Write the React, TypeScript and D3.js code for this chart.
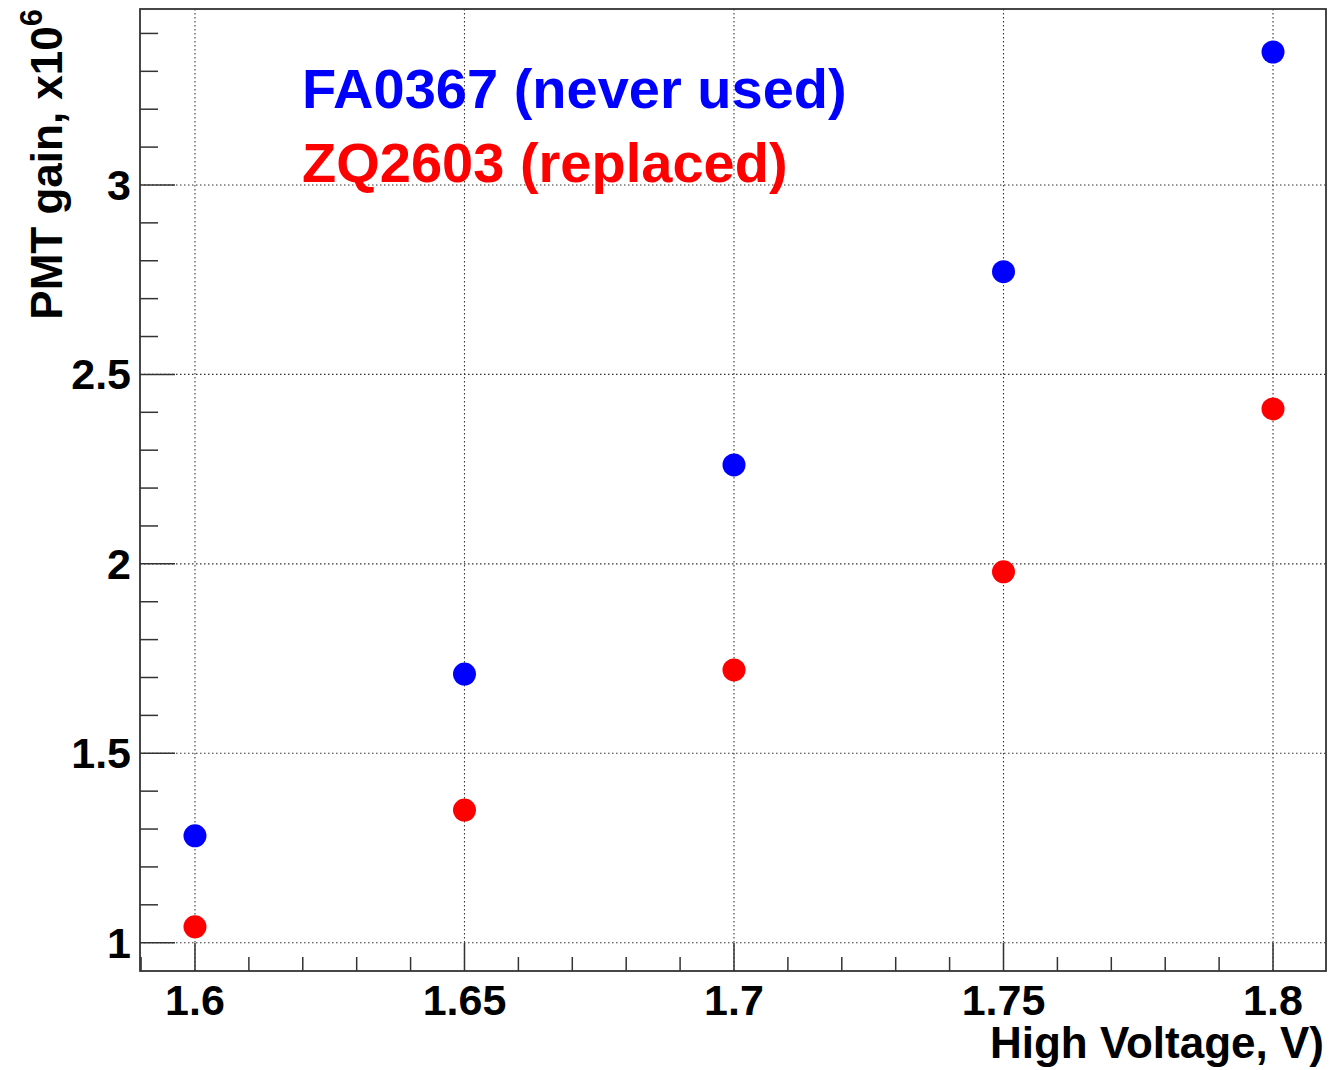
import React, { useEffect } from "react";
import * as d3 from "d3";

// High voltage settings (kV-scale values as labelled on the axis)
const voltages = [1.6, 1.65, 1.7, 1.75, 1.8];
// PMT gain in units of 10^6
const gainFA0367 = [1.282, 1.709, 2.261, 2.771, 3.351];
const gainZQ2603 = [1.042, 1.35, 1.72, 1.979, 2.409];

const xMajorTicks = [1.6, 1.65, 1.7, 1.75, 1.8];
const xTickLabels = ["1.6", "1.65", "1.7", "1.75", "1.8"];
const yMajorTicks = [1, 1.5, 2, 2.5, 3];
const yTickLabels = ["1", "1.5", "2", "2.5", "3"];

const seriesNames = ["FA0367 (never used)", "ZQ2603 (replaced)"];
const seriesColors = ["#0000ff", "#ff0000"];

const W = 1329;
const H = 1070;
const frame = { left: 140, right: 1326, top: 9, bottom: 971 };
const FONT = "'Liberation Sans', Arial, Helvetica, sans-serif";

export default function App() {
  useEffect(() => {
    document.body.style.margin = "0";
  }, []);

  const x = d3.scaleLinear().domain([1.5898, 1.80983]).range([frame.left, frame.right]);
  const y = d3.scaleLinear().domain([0.9253, 3.4645]).range([frame.bottom, frame.top]);

  const xMinor = d3.range(159, 181).map((v) => v / 100).filter((v) => !xMajorTicks.some((m) => Math.abs(m - v) < 1e-9));
  const yMinor = d3.range(10, 35).map((v) => v / 10).filter((v) => !yMajorTicks.some((m) => Math.abs(m - v) < 1e-9));

  const series = [gainFA0367, gainZQ2603];

  return (
    <svg width={W} height={H} style={{ display: "block", background: "#fff" }} fontFamily={FONT}>
      {/* dotted grid at major ticks */}
      <g stroke="#333" strokeWidth={1.1} strokeDasharray="1.5,2.5">
        {xMajorTicks.map((v) => (
          <line key={"gx" + v} x1={x(v)} x2={x(v)} y1={frame.top} y2={frame.bottom} />
        ))}
        {yMajorTicks.map((v) => (
          <line key={"gy" + v} x1={frame.left} x2={frame.right} y1={y(v)} y2={y(v)} />
        ))}
      </g>

      {/* ticks */}
      <g stroke="#333" strokeWidth={1.5}>
        {xMajorTicks.map((v) => (
          <line key={"tx" + v} x1={x(v)} x2={x(v)} y1={frame.bottom} y2={frame.bottom - 28} />
        ))}
        {xMinor.map((v) => (
          <line key={"mx" + v} x1={x(v)} x2={x(v)} y1={frame.bottom} y2={frame.bottom - 14} />
        ))}
        {yMajorTicks.map((v) => (
          <line key={"ty" + v} x1={frame.left} x2={frame.left + 35} y1={y(v)} y2={y(v)} />
        ))}
        {yMinor.map((v) => (
          <line key={"my" + v} x1={frame.left} x2={frame.left + 18} y1={y(v)} y2={y(v)} />
        ))}
      </g>

      {/* frame */}
      <rect
        x={frame.left}
        y={frame.top}
        width={frame.right - frame.left}
        height={frame.bottom - frame.top}
        fill="none"
        stroke="#333"
        strokeWidth={1.8}
      />

      {/* tick labels */}
      <g fontWeight="bold" fontSize={43} fill="#000">
        {xMajorTicks.map((v, i) => (
          <text key={"lx" + v} x={x(v)} y={1015} textAnchor="middle">
            {xTickLabels[i]}
          </text>
        ))}
        {yMajorTicks.map((v, i) => (
          <text key={"ly" + v} x={131} y={y(v) + 15} textAnchor="end">
            {yTickLabels[i]}
          </text>
        ))}
      </g>

      {/* axis titles */}
      <text x={1324} y={1058} textAnchor="end" fontWeight="bold" fontSize={44} fill="#000">
        High Voltage, V)
      </text>
      <text
        transform={`translate(62, 9) rotate(-90)`}
        textAnchor="end"
        fontWeight="bold"
        fontSize={44}
        fill="#000"
      >
        PMT gain, x10
        <tspan fontSize={31} dy={-20}>
          6
        </tspan>
      </text>

      {/* data markers */}
      {series.map((vals, si) => (
        <g key={"s" + si} fill={seriesColors[si]}>
          {vals.map((v, i) => (
            <circle key={i} cx={x(voltages[i])} cy={y(v)} r={11.5} />
          ))}
        </g>
      ))}

      {/* legend text */}
      <g fontWeight="bold" fontSize={56}>
        <text x={302} y={108} fill={seriesColors[0]}>
          {seriesNames[0]}
        </text>
        <text x={302} y={182} fill={seriesColors[1]}>
          {seriesNames[1]}
        </text>
      </g>
    </svg>
  );
}
